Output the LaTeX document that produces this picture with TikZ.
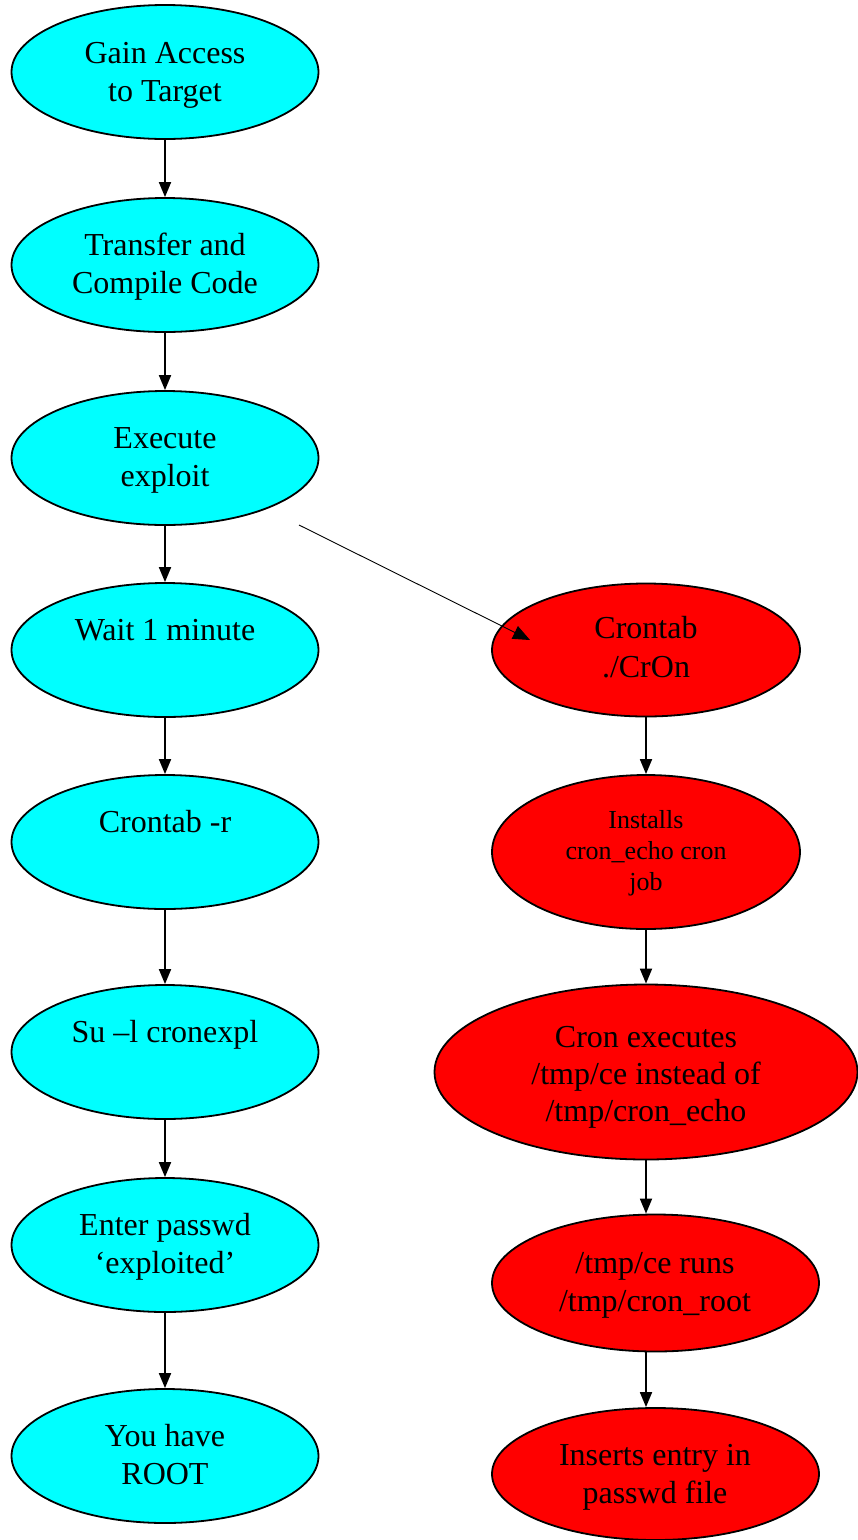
\documentclass[tikz,border=0pt]{standalone}
\usepackage{fontspec}
\setmainfont{Liberation Serif}
\usetikzlibrary{shapes.geometric,arrows.meta}
\definecolor{aquafill}{RGB}{0,255,255}
\definecolor{redfill}{RGB}{255,0,0}
\newcommand\mlines[1]{\begin{tabular}[t]{@{}c@{}}#1\end{tabular}}
\begin{document}
\begin{tikzpicture}[x=1pt,y=-1pt,
  base/.style={ellipse, draw=black, line width=1.8pt, inner sep=0pt},
  cnode/.style={base, fill=aquafill, minimum width=307pt, minimum height=134pt},
  rnode/.style={base, fill=redfill},
  txt/.style={anchor=base, inner sep=0pt, font=\fontsize{32}{38}\selectfont},
  smalltxt/.style={anchor=base, inner sep=0pt, font=\fontsize{26}{31.2}\selectfont},
  flow/.style={line width=1.8pt, -{Triangle[length=15pt,width=12pt]}},
  thin arrow/.style={line width=0.9pt, -{Triangle[length=17pt,width=14pt]}}]
\useasboundingbox (0,0) rectangle (858,1540);
\fill[white] (0,0) rectangle (858,1540);
% left column
\node[cnode] (a1) at (165,72) {};
\node[cnode] (a2) at (165,265) {};
\node[cnode] (a3) at (165,458) {};
\node[cnode] (a4) at (165,650) {};
\node[cnode] (a5) at (165,842) {};
\node[cnode] (a6) at (165,1052) {};
\node[cnode] (a7) at (165,1245) {};
\node[cnode] (a8) at (165,1456) {};
\node[txt] (a1t) at (165,63.3) {\mlines{Gain Access\\to Target}};
\node[txt] (a2t) at (165,255.5) {\mlines{Transfer and\\Compile Code}};
\node[txt] (a3t) at (165,448.5) {\mlines{Execute\\exploit}};
\node[txt] (a4t) at (165,640.7) {Wait 1 minute};
\node[txt] (a5t) at (165,832.7) {Crontab -r};
\node[txt] (a6t) at (165,1042.7) {Su –l cronexpl};
\node[txt] (a7t) at (165,1235) {\mlines{Enter passwd\\‘exploited’}};
\node[txt] (a8t) at (165,1446) {\mlines{You have\\ROOT}};
% right column
\node[rnode, minimum width=308pt, minimum height=133pt] (b1) at (646,650) {};
\node[rnode, minimum width=308pt, minimum height=154pt] (b2) at (646,852) {};
\node[rnode, minimum width=423pt, minimum height=175pt] (b3) at (646,1072) {};
\node[rnode, minimum width=327pt, minimum height=137pt] (b4) at (655.5,1283) {};
\node[rnode, minimum width=327pt, minimum height=132pt] (b5) at (655.5,1474) {};
\node[txt, font=\fontsize{32}{39.4}\selectfont] (b1t) at (646,638.3) {\mlines{Crontab\\./CrOn}};
\node[smalltxt] (b2t) at (646,828.3) {\mlines{Installs\\cron\_echo cron\\job}};
\node[txt, font=\fontsize{32}{37}\selectfont] (b3t) at (646,1047.7) {\mlines{Cron executes\\/tmp/ce instead of\\/tmp/cron\_echo}};
\node[txt] (b4t) at (655,1273.3) {\mlines{/tmp/ce runs\\/tmp/cron\_root}};
\node[txt] (b5t) at (655,1465) {\mlines{Inserts entry in\\passwd file}};
% arrows
\foreach \p/\q in {a1/a2,a2/a3,a3/a4,a4/a5,a5/a6,a6/a7,a7/a8}
  \draw[flow] (\p.south) -- (\q.north);
\draw[flow] (b1.south) -- (b2.north);
\draw[flow] (b2.south) -- (b3.north);
\draw[flow] (b3.south) -- (b3.south |- b4.north);
\draw[flow] (b4.south -| b3.south) -- (b3.south |- b5.north);
\coordinate (s) at (299,525);
\coordinate (t) at (530,640);
\draw[thin arrow] (s) -- (t);
\end{tikzpicture}
\end{document}
